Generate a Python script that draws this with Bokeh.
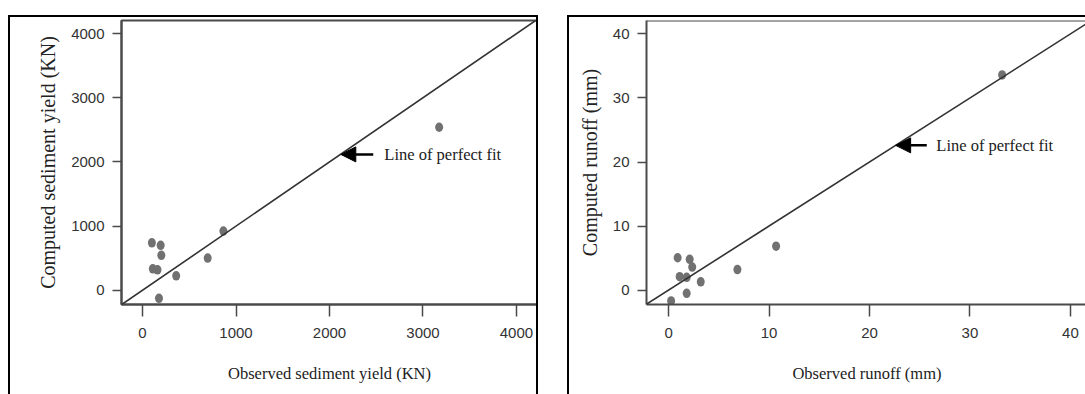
from bokeh.plotting import figure
from bokeh.layouts import row
from bokeh.models import (FixedTicker, Range1d, Slope, Arrow, NormalHead, Label, Span)
from bokeh.embed import file_html
from bokeh.resources import INLINE

# ---------------- data ----------------
obs_sed = [100, 194, 201, 110, 160, 360, 176, 697, 865, 3173]
comp_sed = [740, 700, 544, 334, 319, 225, -125, 502, 923, 2541]
sed_ticks = [0, 1000, 2000, 3000, 4000]

obs_run = [0.9, 2.1, 2.35, 1.1, 1.8, 3.2, 1.8, 0.25, 6.85, 10.7, 33.2]
comp_run = [5.05, 4.8, 3.6, 2.1, 2.0, 1.3, -0.5, -1.7, 3.2, 6.85, 33.6]
run_ticks = [0, 10, 20, 30, 40]

annot_text = "Line of perfect fit"

TICK_FONT = "'Liberation Sans', Arial, sans-serif"
SERIF = "'Liberation Serif', 'Times New Roman', serif"
PT_COLOR = "#717171"
AX_COLOR = "#4a4a4a"


def make_panel(xs, ys, ticks, xr, yr, xlabel, ylabel, width, height,
               mb_left, mb_right, arrow_tip, arrow_tail, text_x, outline):
    p = figure(width=width, height=height, output_backend="svg",
               toolbar_location=None, x_range=Range1d(*xr), y_range=Range1d(*yr),
               min_border_left=mb_left, min_border_right=mb_right,
               min_border_top=3, min_border_bottom=92)
    p.xgrid.visible = False
    p.ygrid.visible = False
    p.background_fill_color = "white"
    p.border_fill_color = "white"
    if outline:
        p.outline_line_color = AX_COLOR
        p.outline_line_width = 2
    else:
        p.outline_line_color = None
        p.add_layout(Span(location=yr[1], dimension="width",
                          line_color=AX_COLOR, line_width=2))

    for ax in (p.xaxis[0], p.yaxis[0]):
        ax.minor_tick_line_color = None
        ax.major_tick_in = 0
        ax.axis_line_color = AX_COLOR
        ax.axis_line_width = 2
        ax.major_tick_line_color = AX_COLOR
        ax.major_tick_line_width = 1.5
        ax.major_label_text_font = TICK_FONT
        ax.major_label_text_color = "#333333"
        ax.axis_label_text_font = SERIF
        ax.axis_label_text_font_style = "normal"
        ax.axis_label_text_color = "#222222"
    p.xaxis[0].ticker = FixedTicker(ticks=ticks)
    p.yaxis[0].ticker = FixedTicker(ticks=ticks)
    p.xaxis[0].major_tick_out = 12
    p.yaxis[0].major_tick_out = 9
    p.xaxis[0].major_label_standoff = 11
    p.yaxis[0].major_label_standoff = 8
    p.xaxis[0].major_label_text_font_size = "15px"
    p.yaxis[0].major_label_text_font_size = "15px"
    p.xaxis[0].axis_label = xlabel
    p.yaxis[0].axis_label = ylabel
    p.xaxis[0].axis_label_text_font_size = "16.5px"
    p.yaxis[0].axis_label_text_font_size = "20px"
    p.xaxis[0].axis_label_standoff = 23
    p.yaxis[0].axis_label_standoff = 9

    # line of perfect fit (y = x)
    p.add_layout(Slope(gradient=1, y_intercept=0, line_color="#333333", line_width=1.6))

    p.ellipse(x=xs, y=ys, width=8, height=9.5, width_units="screen",
              height_units="screen", fill_color=PT_COLOR, line_color=None)

    p.add_layout(Arrow(x_start=arrow_tail[0], y_start=arrow_tail[1],
                       x_end=arrow_tip[0], y_end=arrow_tip[1],
                       line_color="black", line_width=2.5,
                       end=NormalHead(size=15, fill_color="black", line_color="black")))
    p.add_layout(Label(x=text_x, y=arrow_tip[1], text=annot_text,
                       text_font=SERIF, text_font_size="16.5px",
                       text_color="#222222", text_baseline="middle"))
    return p


p1 = make_panel(obs_sed, comp_sed, sed_ticks, (-225, 4225), (-222, 4205),
                "Observed sediment yield (KN)", "Computed sediment yield (KN)",
                530, 379, 111, 3, (2121, 2118), (2468, 2118), 2587, True)
p1.margin = (15, 0, 0, 8)
p1.styles = {"border-top": "2px solid black", "border-left": "2px solid black",
             "border-right": "2px solid black", "box-sizing": "border-box"}

p2 = make_panel(obs_run, comp_run, run_ticks, (-2.2, 41.7), (-2.25, 42.1),
                "Observed runoff (mm)", "Computed runoff (mm)",
                518, 379, 77, 0, (22.6, 22.6), (25.7, 22.6), 26.65, False)
p2.margin = (15, 0, 0, 29)
p2.styles = {"border-top": "2px solid black", "border-left": "2px solid black",
             "box-sizing": "border-box"}

layout = row(p1, p2)
open("out.html", "w").write(file_html(layout, INLINE))
